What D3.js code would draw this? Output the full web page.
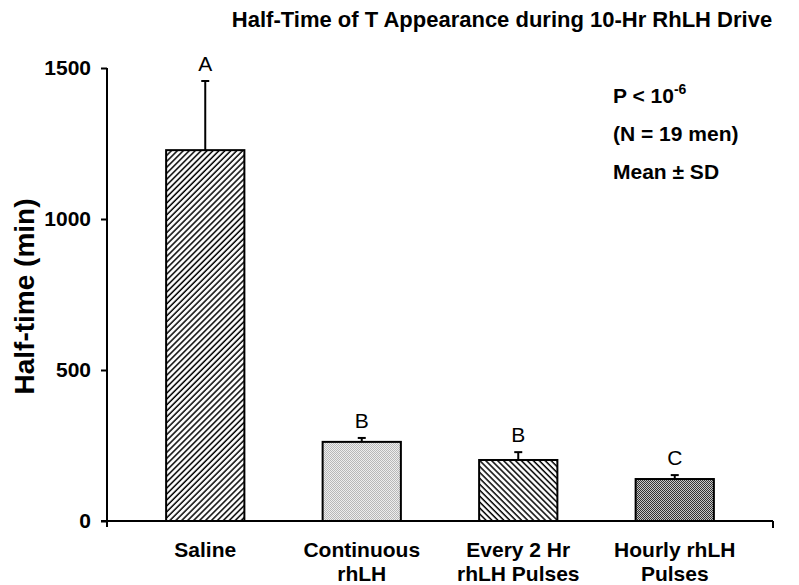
<!DOCTYPE html>
<html lang="en">
<head>
<meta charset="UTF-8">
<title>Half-Time of T Appearance</title>
<script src="https://d3js.org/d3.v7.min.js"></script>
<style>
  body { margin: 0; background: #fff; font-family: "Liberation Sans", Arial, sans-serif; }
  text { font-family: "Liberation Sans", Arial, sans-serif; }
</style>
</head>
<body>
<script>
// chart data
const categories = ["Saline", "Continuous|rhLH", "Every 2 Hr|rhLH Pulses", "Hourly rhLH|Pulses"];
const means = [1228, 262, 202, 139];
const sds = [229, 13, 26, 13];
const letters = ["A", "B", "B", "C"];
const fills = ["hatchUp", "dotsLight", "hatchDown", "dotsDark"];
const yTicks = [0, 500, 1000, 1500];
const notes = ["(N = 19 men)", "Mean \u00b1 SD"];

const width = 799, height = 585;
const plotLeft = 107, plotRight = 773, plotTop = 68, plotBottom = 521;

const svg = d3.select("body").append("svg")
    .attr("width", width)
    .attr("height", height);

// fill patterns
const defs = svg.append("defs");

function hatch(id, angle) {
    const p = defs.append("pattern")
        .attr("id", id)
        .attr("patternUnits", "userSpaceOnUse")
        .attr("width", 4.2).attr("height", 4.2)
        .attr("patternTransform", `rotate(${angle})`);
    p.append("rect").attr("width", 4.2).attr("height", 4.2).attr("fill", "#fff");
    p.append("line").attr("x1", 1).attr("y1", -1).attr("x2", 1).attr("y2", 6)
        .attr("stroke", "#000").attr("stroke-width", 1.5);
}
hatch("hatchUp", 45);
hatch("hatchDown", -45);

function dots(id, bg, fg) {
    const p = defs.append("pattern")
        .attr("id", id)
        .attr("patternUnits", "userSpaceOnUse")
        .attr("width", 2).attr("height", 2);
    p.append("rect").attr("width", 2).attr("height", 2).attr("fill", bg);
    p.append("rect").attr("width", 1).attr("height", 1).attr("fill", fg);
    p.append("rect").attr("x", 1).attr("y", 1).attr("width", 1).attr("height", 1).attr("fill", fg);
}
dots("dotsLight", "#eeeeee", "#b8b8b8");
dots("dotsDark", "#c8c8c8", "#333333");

// scales
const x = d3.scaleBand()
    .domain(categories)
    .range([127, 753])
    .paddingInner(0.5)
    .paddingOuter(0.25);

const y = d3.scaleLinear()
    .domain([0, 1500])
    .range([plotBottom, plotTop]);

// bars
svg.selectAll(".bar")
    .data(categories)
    .join("rect")
    .attr("class", "bar")
    .attr("x", d => x(d))
    .attr("y", (d, i) => y(means[i]))
    .attr("width", x.bandwidth())
    .attr("height", (d, i) => y(0) - y(means[i]))
    .attr("fill", (d, i) => `url(#${fills[i]})`)
    .attr("stroke", "#000")
    .attr("stroke-width", 2);

// error bars (upper only)
const err = svg.selectAll(".err")
    .data(categories)
    .join("g")
    .attr("class", "err")
    .attr("transform", d => `translate(${x(d) + x.bandwidth() / 2},0)`);

err.append("line")
    .attr("y1", (d, i) => y(means[i]))
    .attr("y2", (d, i) => y(means[i] + sds[i]))
    .attr("stroke", "#000").attr("stroke-width", 2);

err.append("line")
    .attr("x1", -4).attr("x2", 4)
    .attr("y1", (d, i) => y(means[i] + sds[i]))
    .attr("y2", (d, i) => y(means[i] + sds[i]))
    .attr("stroke", "#000").attr("stroke-width", 2);

err.append("text")
    .attr("y", (d, i) => y(means[i] + sds[i]) - 10)
    .attr("text-anchor", "middle")
    .style("font-size", "21px")
    .text((d, i) => letters[i]);

// y axis
const yAxis = svg.append("g")
    .attr("transform", `translate(${plotLeft},0)`)
    .call(d3.axisLeft(y).tickValues(yTicks).tickFormat(d3.format("d")).tickSize(6).tickPadding(10));
yAxis.select(".domain").remove();
yAxis.append("line")
    .attr("y1", plotTop).attr("y2", plotBottom + 6)
    .attr("stroke", "#000").attr("stroke-width", 2);
yAxis.selectAll(".tick line").attr("stroke-width", 2);
yAxis.selectAll(".tick text")
    .attr("fill", "#000")
    .style("font-size", "21px")
    .style("font-weight", "bold")
    .style("font-family", "'Liberation Sans', Arial, sans-serif");

// x axis
svg.append("line")
    .attr("x1", plotLeft - 6).attr("x2", plotRight)
    .attr("y1", plotBottom).attr("y2", plotBottom)
    .attr("stroke", "#000").attr("stroke-width", 2);
svg.append("line")
    .attr("x1", plotRight).attr("x2", plotRight)
    .attr("y1", plotBottom).attr("y2", plotBottom + 7)
    .attr("stroke", "#000").attr("stroke-width", 2);

// category labels
svg.selectAll(".cat")
    .data(categories)
    .join("text")
    .attr("class", "cat")
    .attr("x", d => x(d) + x.bandwidth() / 2)
    .attr("y", 557)
    .attr("text-anchor", "middle")
    .style("font-size", "21px")
    .style("font-weight", "bold")
    .selectAll("tspan")
    .data(d => d.split("|"))
    .join("tspan")
    .attr("x", function () { return d3.select(this.parentNode).attr("x"); })
    .attr("dy", (d, i) => i === 0 ? 0 : 24)
    .text(d => d);

// y label
svg.append("text")
    .attr("transform", `translate(34,${(plotTop + plotBottom) / 2 + 2}) rotate(-90)`)
    .attr("text-anchor", "middle")
    .style("font-size", "28px")
    .style("font-weight", "bold")
    .text("Half-time (min)");

// title
svg.append("text")
    .attr("x", 502)
    .attr("y", 27)
    .attr("text-anchor", "middle")
    .style("font-size", "22px")
    .style("font-weight", "bold")
    .text("Half-Time of T Appearance during 10-Hr RhLH Drive");

// annotations
const pText = svg.append("text")
    .attr("x", 613).attr("y", 103)
    .style("font-size", "21px")
    .style("font-weight", "bold");
pText.append("tspan").text("P < 10");
pText.append("tspan").attr("dy", -9).style("font-size", "14px").text("-6");

svg.selectAll(".note")
    .data(notes)
    .join("text")
    .attr("class", "note")
    .attr("x", 613)
    .attr("y", (d, i) => 141 + i * 38)
    .style("font-size", "21px")
    .style("font-weight", "bold")
    .text(d => d);
</script>
</body>
</html>
